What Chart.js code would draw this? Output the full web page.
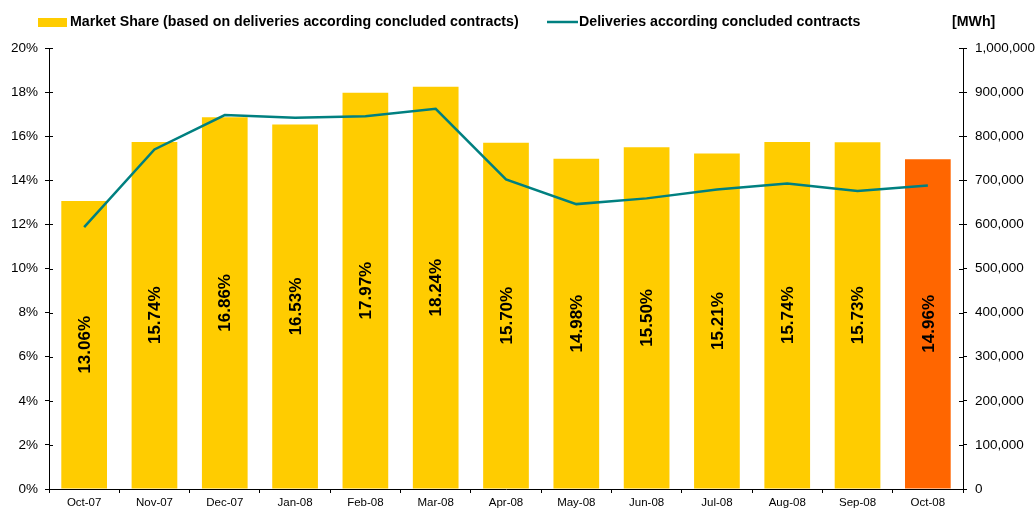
<!DOCTYPE html>
<html lang="en">
<head>
<meta charset="UTF-8">
<title>Market Share</title>
<script src="https://cdn.jsdelivr.net/npm/chart.js"></script>
<style>
  body { margin: 0; background: #fff; }
</style>
</head>
<body>
<canvas id="share-chart" width="1035" height="510"></canvas>
<script>
// data
const months = ['Oct-07', 'Nov-07', 'Dec-07', 'Jan-08', 'Feb-08', 'Mar-08', 'Apr-08',
                'May-08', 'Jun-08', 'Jul-08', 'Aug-08', 'Sep-08', 'Oct-08'];
const marketShare = [13.06, 15.74, 16.86, 16.53, 17.97, 18.24, 15.70, 14.98, 15.50, 15.21, 15.74, 15.73, 14.96];
const deliveries = [594000, 770000, 848000, 842000, 845000, 862000, 702000, 646000, 659000, 679000, 693000, 676000, 688000];

const YELLOW = '#FFCC00';
const ORANGE = '#FF6600';
const TEAL = '#008080';
const FONT = 'Arial, "Liberation Sans", sans-serif';

const barColors = months.map((m, i) => i === months.length - 1 ? ORANGE : YELLOW);

// legend + unit label drawn by hand so they sit where the original has them
const legendPlugin = {
  id: 'legendPlugin',
  afterDraw(chart) {
    const ctx = chart.ctx;
    ctx.save();
    ctx.font = 'bold 14.2px ' + FONT;
    ctx.textBaseline = 'middle';
    ctx.fillStyle = YELLOW;
    ctx.fillRect(38, 18, 29, 9);
    ctx.fillStyle = '#000';
    ctx.fillText('Market Share (based on deliveries according concluded contracts)', 70, 22);
    ctx.strokeStyle = TEAL;
    ctx.lineWidth = 2.5;
    ctx.beginPath();
    ctx.moveTo(547, 22);
    ctx.lineTo(578, 22);
    ctx.stroke();
    ctx.fillText('Deliveries according concluded contracts', 579, 22);
    ctx.fillText('[MWh]', 952, 22);
    ctx.restore();
  }
};

// tick marks that cross into the plot area + value labels in bars
const extrasPlugin = {
  id: 'extrasPlugin',
  afterDatasetsDraw(chart) {
    const ctx = chart.ctx;
    const area = chart.chartArea;
    ctx.save();
    ctx.strokeStyle = '#000';
    ctx.lineWidth = 1;
    ctx.beginPath();
    chart.scales.y.ticks.forEach(t => {
      const y = Math.round(chart.scales.y.getPixelForValue(t.value)) + 0.5;
      ctx.moveTo(area.left, y);
      ctx.lineTo(area.left + 4, y);
    });
    chart.scales.y1.ticks.forEach(t => {
      const y = Math.round(chart.scales.y1.getPixelForValue(t.value)) + 0.5;
      ctx.moveTo(area.right, y);
      ctx.lineTo(area.right - 4, y);
    });
    ctx.stroke();

    const meta = chart.getDatasetMeta(1);
    ctx.font = 'bold 17px ' + FONT;
    ctx.fillStyle = '#000';
    ctx.textAlign = 'center';
    ctx.textBaseline = 'middle';
    meta.data.forEach((bar, i) => {
      const cy = (bar.y + bar.base) / 2;
      ctx.save();
      ctx.translate(bar.x, cy);
      ctx.rotate(-Math.PI / 2);
      ctx.fillText(marketShare[i].toFixed(2) + '%', 0, 1);
      ctx.restore();
    });
    ctx.restore();
  }
};

const ctx = document.getElementById('share-chart').getContext('2d');
new Chart(ctx, {
  data: {
    labels: months,
    datasets: [
      {
        type: 'line',
        label: 'Deliveries according concluded contracts',
        data: deliveries,
        yAxisID: 'y1',
        borderColor: TEAL,
        borderWidth: 2.5,
        pointRadius: 0,
        tension: 0,
        order: 0
      },
      {
        type: 'bar',
        label: 'Market Share (based on deliveries according concluded contracts)',
        data: marketShare,
        yAxisID: 'y',
        backgroundColor: barColors,
        categoryPercentage: 1,
        barPercentage: 0.65,
        order: 1
      }
    ]
  },
  options: {
    responsive: false,
    animation: false,
    layout: { padding: { top: 48, left: 0, right: 0, bottom: 0 } },
    plugins: {
      legend: { display: false },
      tooltip: { enabled: false }
    },
    scales: {
      x: {
        offset: true,
        grid: { offset: true, drawOnChartArea: false, tickLength: 4, color: '#000' },
        border: { color: '#000' },
        ticks: { font: { family: FONT, size: 11.5 }, color: '#000', padding: 3, maxRotation: 0 },
        afterFit(scale) { scale.height = 21; }
      },
      y: {
        position: 'left',
        min: 0,
        max: 20,
        grid: { drawOnChartArea: false, tickLength: 4, color: '#000' },
        border: { color: '#000' },
        ticks: {
          stepSize: 2,
          font: { family: FONT, size: 13.5 },
          color: '#000',
          padding: 7,
          callback: v => v + '%'
        },
        afterFit(scale) { scale.width = 49; }
      },
      y1: {
        position: 'right',
        min: 0,
        max: 1000000,
        grid: { drawOnChartArea: false, tickLength: 4, color: '#000' },
        border: { color: '#000' },
        ticks: {
          stepSize: 100000,
          font: { family: FONT, size: 13.5 },
          color: '#000',
          padding: 8,
          callback: v => v.toLocaleString('en-US')
        },
        afterFit(scale) { scale.width = 72; }
      }
    }
  },
  plugins: [legendPlugin, extrasPlugin]
});
</script>
</body>
</html>
